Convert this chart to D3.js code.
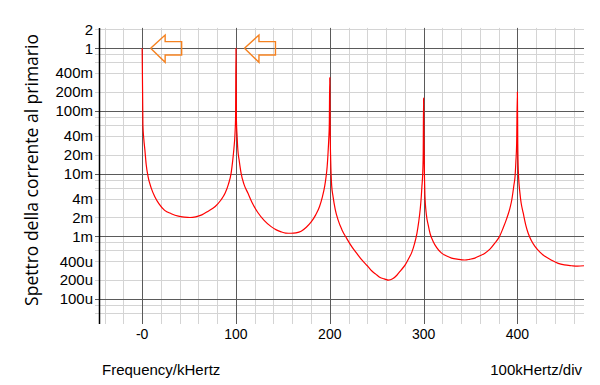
<!DOCTYPE html>
<html>
<head>
<meta charset="utf-8">
<script src="https://cdn.jsdelivr.net/npm/d3@7"></script>
<style>
  body { margin: 0; background: #fff; }
  svg { display: block; font-family: "Liberation Sans", Arial, sans-serif; }
</style>
</head>
<body>
<svg id="chart" width="600" height="385"></svg>
<script>
// asse y (log), etichette come nel riferimento
const yTickValues = [2, 1, 0.4, 0.2, 0.1, 0.04, 0.02, 0.01, 0.004, 0.002, 0.001, 4e-4, 2e-4, 1e-4];
const yTickLabels = ["2", "1", "400m", "200m", "100m", "40m", "20m", "10m", "4m", "2m", "1m", "400u", "200u", "100u"];
const yDecades = [1e-4, 1e-3, 1e-2, 1e-1, 1];
const yMinorMult = [2, 4, 6, 8];

// asse x (kHz)
const xMajor = [0, 100, 200, 300, 400];
const xTickLabels = ["-0", "100", "200", "300", "400"];
const xMinorStep = 20;

// frecce arancioni (frequenze dove puntano)
const arrowFreqs = [0, 100];

// spettro: frequenza (kHz) e ampiezza
const spectrumFreq = [
  0, 0.8, 1.8, 2.9, 4.3, 6.3, 9.5, 13.5, 18, 24, 31, 38.6, 45, 51, 57, 63.6, 70, 77.9, 84, 88.5, 92, 94.8, 96.5, 97.8, 99, 99.6,
  100, 100.5, 101.2, 102, 103.5, 105.5, 108.5, 112.7, 117, 123.3, 130, 137.5, 143, 148.2, 153, 158.8, 164, 169.5, 175, 180.2, 185, 189.1, 192, 194.5, 196, 197.2, 198.2, 198.9, 199.5,
  200, 200.4, 201, 202, 203.5, 205.8, 209, 212.9, 218, 223.6, 229, 234.2, 240, 244.9, 249, 253.7, 258, 262.7, 267, 271.5, 276, 280.4, 284, 287.5, 290.5, 292.9, 294.8, 296.4, 297.5, 298.2, 299, 299.6,
  300, 300.4, 301, 301.4, 303, 304.9, 307, 310.2, 314, 319.2, 324, 329.8, 337, 344, 349, 354.7, 360, 365.4, 371, 376, 381, 384.9, 388.5, 392, 394, 396.3, 397.5, 398.4, 399.2,
  400, 400.4, 401, 402.7, 404, 406.2, 409, 411.5, 415, 418.7, 424, 429.3, 436, 443.5, 450, 457.7, 464, 471
];
const spectrumAmp = [
  1, 0.06, 0.035, 0.024, 0.014, 0.009, 0.006, 0.0043, 0.0033, 0.0026, 0.0023, 0.0021, 0.00203, 0.002, 0.00205, 0.0022, 0.0025, 0.003, 0.0038, 0.0049, 0.0068, 0.0101, 0.016, 0.025, 0.044, 0.08,
  1, 0.07, 0.04, 0.024, 0.016, 0.0101, 0.0068, 0.0049, 0.0035, 0.0024, 0.0018, 0.00143, 0.00127, 0.00118, 0.00113, 0.00112, 0.00114, 0.00121, 0.0014, 0.0017, 0.0022, 0.003, 0.0042, 0.0062, 0.0088, 0.0129, 0.022, 0.035, 0.06,
  0.34, 0.05, 0.016, 0.0065, 0.0043, 0.0027, 0.0018, 0.00128, 0.00093, 0.00068, 0.00053, 0.00042, 0.00034, 0.00028, 0.00025, 0.00022, 0.00021, 0.0002, 0.00021, 0.00024, 0.00029, 0.00035, 0.00044, 0.00056, 0.00078, 0.00112, 0.0017, 0.0027, 0.0042, 0.0062, 0.0095, 0.02,
  0.16, 0.03, 0.008, 0.0046, 0.0022, 0.00152, 0.0011, 0.00083, 0.00066, 0.00054, 0.00049, 0.00045, 0.00043, 0.00042, 0.00043, 0.00045, 0.00049, 0.00054, 0.00063, 0.00078, 0.001, 0.00137, 0.0019, 0.0028, 0.0038, 0.0066, 0.009, 0.0156, 0.03,
  0.2, 0.03, 0.011, 0.0049, 0.0034, 0.00236, 0.0015, 0.00112, 0.00085, 0.00069, 0.00056, 0.00048, 0.00042, 0.00037, 0.00035, 0.00034, 0.000335, 0.00034
];

const svg = d3.select("#chart");
const mLeft = 99, mRight = 584, mTop = 29.4, mBottom = 324;

const x = d3.scaleLinear().domain([-46, 471]).range([mLeft, mRight]);
const y = d3.scaleLog().domain([4e-5, 2]).range([mBottom, mTop]);

// griglia minore
const yMinor = [];
yDecades.forEach(d => yMinorMult.forEach(m => { if (d * m <= 2) yMinor.push(d * m); }));
yMinor.push(6e-5, 8e-5);
const xMinor = d3.range(-40, 471, xMinorStep).filter(v => !xMajor.includes(v));

const grid = svg.append("g");
grid.selectAll(".hmin").data(yMinor).enter().append("line")
  .attr("x1", mLeft - 4).attr("x2", mRight)
  .attr("y1", d => Math.round(y(d)) + 0.5).attr("y2", d => Math.round(y(d)) + 0.5)
  .attr("stroke", "#d4d4d4");
grid.selectAll(".vmin").data(xMinor).enter().append("line")
  .attr("x1", d => Math.round(x(d)) + 0.5).attr("x2", d => Math.round(x(d)) + 0.5)
  .attr("y1", mTop - 1.5).attr("y2", mBottom)
  .attr("stroke", "#d4d4d4");
grid.selectAll(".hmaj").data(yDecades).enter().append("line")
  .attr("x1", mLeft - 4).attr("x2", mRight)
  .attr("y1", d => Math.round(y(d)) + 0.5).attr("y2", d => Math.round(y(d)) + 0.5)
  .attr("stroke", "#5a5a5a");
grid.selectAll(".vmaj").data(xMajor).enter().append("line")
  .attr("x1", d => Math.round(x(d)) + 0.5).attr("x2", d => Math.round(x(d)) + 0.5)
  .attr("y1", mTop - 1.5).attr("y2", mBottom)
  .attr("stroke", "#5a5a5a");

// asse verticale
svg.append("line")
  .attr("x1", mLeft + 0.5).attr("x2", mLeft + 0.5)
  .attr("y1", mTop - 1.5).attr("y2", mBottom)
  .attr("stroke", "#000").attr("stroke-width", 1.5);

// etichette y
svg.append("g").selectAll("text").data(yTickValues).enter().append("text")
  .attr("x", 93).attr("y", d => y(d))
  .attr("dy", "0.35em").attr("text-anchor", "end")
  .attr("font-size", 15).attr("fill", "#000")
  .text((d, i) => yTickLabels[i]);

// etichette x
svg.append("g").selectAll("text").data(xMajor).enter().append("text")
  .attr("x", d => x(d)).attr("y", 339)
  .attr("text-anchor", "middle")
  .attr("font-size", 14).attr("fill", "#000")
  .text((d, i) => xTickLabels[i]);

svg.append("text").attr("x", 102).attr("y", 375)
  .attr("font-size", 15).text("Frequency/kHertz");
svg.append("text").attr("x", 582).attr("y", 375)
  .attr("font-size", 15).attr("text-anchor", "end").text("100kHertz/div");

svg.append("text")
  .attr("transform", "translate(38,170) rotate(-90)")
  .attr("text-anchor", "middle")
  .attr("font-family", "'Open Sans', 'Noto Sans', sans-serif")
  .attr("font-size", 17.5)
  .text("Spettro della corrente al primario");

// spettro
const pts = spectrumFreq.map((f, i) => [f, spectrumAmp[i]]);
const line = d3.line()
  .x(d => x(d[0]))
  .y(d => y(d[1]))
  .curve(d3.curveMonotoneX);
svg.append("path").datum(pts)
  .attr("d", line)
  .attr("fill", "none")
  .attr("stroke", "#ff0000")
  .attr("stroke-width", 1.2);

// frecce
const arrowShape = [[0, 0], [14.5, -13.3], [14.5, -6.6], [31, -6.6], [31, 6.7], [14.5, 6.7], [14.5, 14], [0, 0]];
svg.append("g").selectAll("path").data(arrowFreqs).enter().append("path")
  .attr("transform", d => `translate(${x(d) + 8.5},${y(1)})`)
  .attr("d", d3.line()(arrowShape))
  .attr("fill", "none")
  .attr("stroke", "#f58220")
  .attr("stroke-width", 1.4);
</script>
</body>
</html>
